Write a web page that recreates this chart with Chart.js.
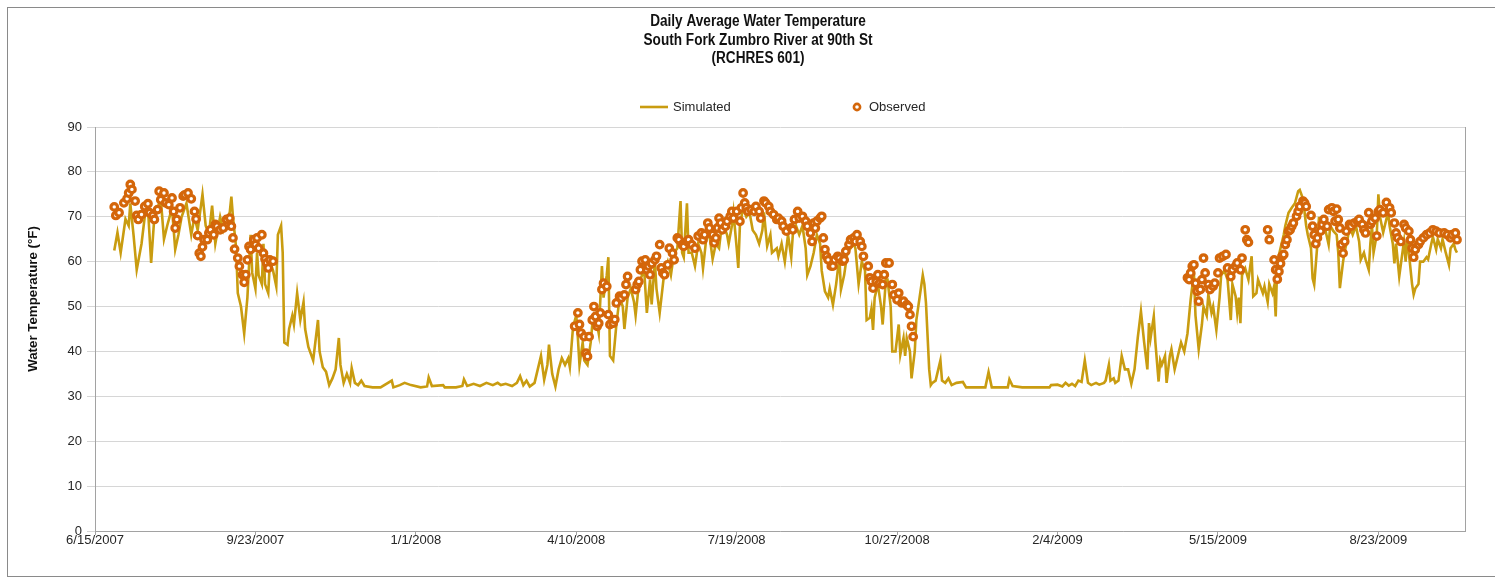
<!DOCTYPE html>
<html>
<head>
<meta charset="utf-8">
<title>Daily Average Water Temperature</title>
<script src="https://cdn.jsdelivr.net/npm/chart.js@4.4.1/dist/chart.umd.min.js"></script>
<style>
    html, body { margin: 0; padding: 0; background: #fff; overflow: hidden; }
    #wrap { position: relative; width: 1495px; height: 581px; }
    #frame { position: absolute; left: 7px; top: 7px; width: 1600px; height: 568px; border: 1px solid #8a8a8a; border-right: none; }
    #chart { position: absolute; left: 0; top: 0; }
</style>
</head>
<body>
<div id="wrap">
    <div id="frame"></div>
    <canvas id="chart" width="1495" height="581"></canvas>
</div>
<script>
/**
 * Daily average water temperature, South Fork Zumbro River (RCHRES 601)
 * x values are days counted from 6/15/2007
 */

// --- Data ---
const titleLines = [
    'Daily Average Water Temperature',
    'South Fork Zumbro River at 90th St',
    '(RCHRES 601)'
];
const yAxisTitle = 'Water Temperature (\u00B0F)';
const xTickLabels = ['6/15/2007', '9/23/2007', '1/1/2008', '4/10/2008', '7/19/2008',
    '10/27/2008', '2/4/2009', '5/15/2009', '8/23/2009'];
const xTickStep = 100;
const xMaxDay = 854;

// simulated daily mean, [day, degF]
const simulated = [
    [12,62.5],[14,66.5],[16,62],[19,69.5],[21,68],[22,73],[24,66],[26,58.2],[29,64],[31,70],
    [33,72],[35,59.7],[37,70],[39,72],[41,74],[43,65],[45,68],[48,72],[50,62.7],[52,66],
    [54,70],[57,73],[60,66],[62,70],[64,67],[67,75],[69,68],[71,66],[73,72.5],[75,64],
    [78,70],[80,67],[82,69],[84,71],[85,74.5],[86,70],[88,63],[89,53],[91,50],[93,44],
    [95,52],[97,66],[98,57.5],[100,54],[101,62],[102,57],[104,55],[105,64],[106,55],[108,53],
    [109,60],[111,58],[113,54.5],[114,66],[116,68],[117,62],[118,42],[120,41.5],[121,45],[123,48],
    [124,46],[126,53],[128,47],[130,51],[131,45],[133,41],[136,38],[139,47],[140,40],[142,36.5],
    [144,35.5],[146,32.5],[148,34],[150,36],[152,43],[153,37],[155,33],[157,35],[159,33],[160,36.3],
    [162,33],[164,32.5],[166,33.5],[168,32.3],[173,32],[178,32],[185,33.5],[186,32],[190,32.5],[193,33],
    [197,32.5],[203,32],[207,32.2],[208,34.2],[210,32.3],[217,32.5],[218,32],[225,32],[229,32.3],[230,33.8],
    [232,32.3],[236,32.8],[240,32.3],[244,33],[248,32.5],[251,33],[253,32.5],[256,32.8],[260,32.3],[263,33],
    [265,34.5],[267,32.5],[269,33.5],[271,32.2],[274,33],[278,39],[280,33.7],[282,37],[283,41.5],[285,35],
    [287,32.2],[289,36],[291,38.5],[293,37],[295,38.5],[296,36.5],[298,45.5],[300,48],[301,43],[302,37],
    [304,42],[305,38],[307,37],[309,42],[310,46],[312,48],[314,44],[316,59],[317,52],[319,57],
    [320,61],[321,39],[323,38],[325,46],[327,52],[329,50],[330,45],[332,52],[334,54],[336,51],
    [337,48],[339,55],[341,57],[342,60],[344,48.6],[346,56],[347,50.5],[349,60],[350,54],[352,48.6],
    [355,58],[357,60],[359,57],[361,62],[363,63],[365,73.5],[366,62],[367,61],[369,73],[370,62],
    [372,62],[374,59],[376,64],[378,62],[379,58.5],[381,65],[383,66],[385,60.6],[387,64],[389,63],
    [390,66],[392,68],[394,66],[395,64],[397,68],[398,71],[400,63],[401,58.6],[402,68],[404,72],
    [406,70],[408,71],[410,67],[412,66],[414,64],[416,67],[417,71],[419,63.5],[421,66],[422,62],
    [425,63],[426,61.2],[428,64],[430,60],[432,66],[434,61],[435,66],[437,68],[439,66],[441,68],
    [443,63],[444,57],[446,59],[448,62],[450,66],[452,64],[453,58],[455,53.4],[457,52],[458,54],
    [460,50.4],[462,55],[464,61],[465,53.8],[467,57],[469,62],[471,63],[473,64],[474,63],[476,55],
    [478,60],[480,58],[481,47],[483,47.5],[484,49.5],[485,44.8],[486,52],[488,55],[490,50],[491,46],
    [493,56],[494,56],[496,50],[497,40],[499,40],[501,46],[502,39.3],[504,43],[505,39],[506,43],
    [508,40],[509,34],[511,40],[512,47],[514,52],[516,57],[517,55],[518,50.8],[520,36],[521,32.5],
    [522,33],[524,33.5],[527,38],[528,33.5],[530,33],[532,34],[534,32.5],[537,33],[541,33.2],[543,32],
    [549,32],[555,32],[557,35.4],[559,32],[566,32],[569,32],[570,33.8],[572,32.3],[578,32],[595,32],
    [596,32.5],[600,32.6],[603,32.2],[605,33],[607,32.4],[609,32.8],[611,32.3],[613,33.5],[615,33.2],[617,38],
    [619,33],[621,32.5],[624,33],[626,32.6],[629,33],[630,33.5],[632,37],[633,33.5],[635,34],[636,33],
    [638,33.5],[640,39],[642,36],[644,36],[646,32.8],[648,36],[650,43],[652,48.9],[654,42],[656,36],
    [657,46.3],[658,43],[660,47.8],[661,42],[663,33.3],[664,38],[665,37],[667,39],[668,33],[670,39],
    [671,40.5],[673,36],[675,39],[677,42],[679,40],[681,44],[683,51.6],[685,57.5],[686,48],[688,40.5],
    [690,46],[691,50],[693,48],[694,52.7],[696,48.6],[697,50],[699,44.8],[701,52],[702,57],[704,58],
    [706,56],[708,47],[709,55],[711,52.3],[712,48.6],[713,52],[714,46.3],[715,57],[717,58.5],[719,56],
    [721,61.2],[722,52.3],[724,53],[725,56],[728,53],[729,54.5],[731,51],[732,55],[734,53],[735,54.5],
    [736,47.8],[737,60],[739,63],[741,66],[742,68],[744,70.9],[746,72],[748,73],[750,75.7],[751,76],
    [753,74],[755,68],[756,66],[758,63],[759,56.3],[760,54.9],[762,64],[763,70],[764,66],[766,68.5],
    [767,67],[769,63.8],[770,68],[772,66.8],[774,66],[775,62],[776,54.1],[778,60],[779,62.3],[781,65.5],
    [782,68],[784,66],[786,68],[788,64.5],[789,60.4],[791,62],[792,60.5],[794,58.2],[795,64],[796,68],
    [797,62],[799,66],[800,75],[801,70],[803,66.5],[804,68],[806,71],[807,68],[809,64],[810,59.6],
    [811,64],[813,56.7],[815,62],[816,64.5],[817,60],[818,65],[819,62],[821,55],[822,52.7],[823,54],
    [825,55],[826,60],[828,60],[830,61],[831,60.5],[833,64],[834,65.5],[836,62.7],[837,65],[839,63],
    [840,65],[842,62],[844,59.3],[845,63],[847,64],[848,62.7],[849,62]
];

// observed grab samples, [day, degF]
const observed = [
    [12,72.2],[13,70.3],[15,70.9],[18,73.1],[20,74],[21,75.3],[22,77.2],[23,76.1],[25,73.5],[26,70.3],
    [27,69.4],[29,70.5],[31,72.3],[33,72.9],[34,70.9],[36,70.3],[37,69.4],[39,71.6],[40,75.7],[41,73.8],
    [43,75.3],[44,73.1],[46,72.7],[48,74.2],[49,71.2],[50,67.5],[51,69.4],[53,72],[55,74.6],[56,74.9],
    [58,75.3],[60,74],[62,71.2],[63,69.5],[64,65.8],[65,61.9],[66,61.2],[67,63.3],[68,64.9],[70,64.9],
    [71,66.4],[72,67.1],[74,66],[75,68.3],[76,67.9],[78,67.1],[80,67.5],[82,69.4],[84,69.7],[85,67.9],
    [86,65.3],[87,62.8],[89,60.8],[90,59],[92,57.1],[93,55.4],[94,57.1],[95,60.4],[96,63.4],[97,62.7],
    [99,64.9],[100,63.8],[101,65.3],[102,63],[104,66],[105,61.9],[106,60.6],[107,59.7],[108,58.6],[109,60.4],
    [111,60.1],
    [299,45.6],[301,48.6],[302,46],[303,44.1],[305,43.3],[306,39.6],[307,38.9],[308,43.3],[310,47],[311,50],
    [312,47.8],[313,45.6],[314,46.3],[315,48.6],[316,53.8],[317,55.2],[319,54.5],[320,48.2],[321,46],[323,46.3],
    [324,47.1],[325,50.8],[327,52.3],[328,51.9],[330,52.6],[331,54.9],[332,56.7],[337,53.8],[338,54.9],[339,55.6],
    [340,58.2],[341,60.1],[343,60.4],[344,58.2],[345,59],[346,57.1],[347,59.6],[349,60.4],[350,61.2],[352,63.8],
    [353,58.6],[354,57.5],[355,57.1],[357,59.3],[358,63],[360,61.9],[361,60.4],[363,65.3],[364,64.9],[366,63.8],
    [367,63.4],[369,64.5],[370,64.9],[372,63.8],[374,63],[376,65.7],[378,66.4],[379,64.9],[380,66],[382,68.6],
    [383,67.5],[385,66],[386,64.2],[387,65.3],[388,67.5],[389,69.7],[390,68.6],[391,67.1],[393,67.9],[394,69],
    [396,70.1],[397,71.2],[398,69.7],[400,71.2],[402,69],[403,72],[404,75.3],[405,73.1],[406,72],[407,71.2],
    [409,71.6],[411,71.2],[412,72.3],[414,71.2],[415,69.7],[417,73.5],[418,73.1],[420,72.3],[421,71.2],[423,70.5],
    [425,69.4],[426,69.7],[428,69],[429,67.9],[431,66.8],[434,67.5],[435,67.1],[436,69.4],[438,71.2],[439,69.7],
    [441,70.1],[443,69],[444,67.9],[446,66.4],[447,64.5],[448,68.6],[449,67.5],[450,69],[452,69.7],[453,70.1],
    [454,65.3],[455,62.7],[456,61.2],[457,60.4],[459,59],[460,59],[461,60.4],[463,61.2],[464,60.8],[466,60.1],
    [467,60.4],[468,62.3],[470,63.8],[471,64.9],[473,65.3],[474,64.5],[475,66],[477,64.5],[478,63.4],[479,61.2],
    [482,59],[483,56.4],[484,55.6],[485,54.1],[487,55.6],[488,57.1],[489,55.2],[491,54.9],[492,57.1],[493,59.7],
    [495,59.7],[497,54.9],[498,52.6],[500,51.5],[501,53],[503,50.8],[504,51.2],[506,50.4],[507,50],[508,48.2],
    [509,45.6],[510,43.3],
    [681,56.4],[682,56],[683,57.5],[684,59],[685,59.3],[686,55.2],[687,53.4],[688,51.2],[689,53.8],[690,56],
    [691,60.8],[692,57.5],[694,54.9],[695,53.8],[697,54.5],[698,55.2],[700,57.5],[701,60.8],[703,61.2],[705,61.6],
    [706,58.6],[708,56.7],[709,58.2],[711,59],[712,59.7],[714,58.2],[715,60.8],[717,67.1],[718,64.9],[719,64.3],
    [731,67.1],[732,64.9],[735,60.4],[736,58.2],[737,56.1],[738,57.8],[739,59.6],[740,61.2],[741,61.6],[742,63.8],
    [743,64.9],[744,66.8],[745,67.1],[746,67.9],[747,68.6],[749,70.1],[750,71.2],[751,72.3],[753,73.5],[754,73.1],
    [755,72.3],[758,70.3],[759,67.9],[760,66],[761,64],[762,65.3],[764,66.8],[765,68.3],[766,69.4],[768,67.9],
    [769,71.6],[771,72],[772,71.2],[773,69],[774,71.7],[775,69.4],[776,67.5],[777,63.8],[778,61.9],[779,64.5],
    [780,66.8],[782,68.3],[783,67.9],[785,68.6],[787,69],[788,69.4],[790,68.3],[791,67.1],[792,66.4],[794,70.9],
    [795,68.3],[796,69],[798,69.7],[799,65.7],[800,71.2],[801,71.6],[803,70.9],[805,73.2],[807,72],[808,70.9],
    [810,68.6],[811,66.4],[812,65.3],[814,64.5],[816,68.3],[817,67.5],[819,66.8],[820,64.9],[821,63],[822,61],
    [823,62.7],[825,63.8],[826,64.5],[828,65.3],[830,66],[832,66.4],[834,67.1],[836,66.8],[838,66.4],[841,66.4],
    [843,66],[845,65.3],[846,66],[848,66.4],[849,64.9]
];

// --- Styles ---
const SIM_COLOR = '#C99C10';
const OBS_COLOR = '#D4660A';
const GRID_COLOR = '#d6d6d6';
const AXIS_COLOR = '#a2a2a2';
const TEXT_COLOR = '#262626';
const FONT = '"Liberation Sans", Arial, sans-serif';

Chart.defaults.font.family = FONT;
Chart.defaults.font.size = 13;
Chart.defaults.color = TEXT_COLOR;

// --- Title, axis title, legend, plot edge ---
const decorPlugin = {
    id: 'decor',
    afterDraw(chart) {
        const { ctx, chartArea } = chart;
        ctx.save();

        // right edge of the plot area
        const rx = Math.round(chartArea.right) + 0.5;
        ctx.strokeStyle = AXIS_COLOR;
        ctx.lineWidth = 1;
        ctx.beginPath();
        ctx.moveTo(rx, chartArea.top);
        ctx.lineTo(rx, chartArea.bottom);
        ctx.stroke();

        // chart title (condensed bold)
        ctx.fillStyle = '#111';
        ctx.textAlign = 'center';
        ctx.textBaseline = 'middle';
        ctx.font = 'bold 16px ' + FONT;
        titleLines.forEach((line, i) => {
            ctx.save();
            ctx.translate(758, 22 + i * 18.5);
            ctx.scale(0.85, 1);
            ctx.fillText(line, 0, 0);
            ctx.restore();
        });

        // y axis title
        ctx.save();
        ctx.translate(33, 299);
        ctx.rotate(-Math.PI / 2);
        ctx.font = 'bold 13.3px ' + FONT;
        ctx.fillText(yAxisTitle, 0, 0);
        ctx.restore();

        // legend
        const [simSet, obsSet] = chart.data.datasets;
        const ly = 107;
        ctx.textAlign = 'left';
        ctx.font = '13px ' + FONT;
        ctx.fillStyle = TEXT_COLOR;

        ctx.strokeStyle = SIM_COLOR;
        ctx.lineWidth = 2.6;
        ctx.beginPath();
        ctx.moveTo(640, ly);
        ctx.lineTo(668, ly);
        ctx.stroke();
        ctx.fillText(simSet.label, 673, ly);

        ctx.strokeStyle = OBS_COLOR;
        ctx.lineWidth = 2.6;
        ctx.beginPath();
        ctx.arc(857, ly, 3.1, 0, Math.PI * 2);
        ctx.stroke();
        ctx.fillText(obsSet.label, 869, ly);

        ctx.restore();
    }
};

// --- Chart ---
new Chart(document.getElementById('chart'), {
    type: 'scatter',
    data: {
        datasets: [
            {
                label: 'Simulated',
                data: simulated.map(([x, y]) => ({ x, y })),
                showLine: true,
                borderColor: SIM_COLOR,
                borderWidth: 2.6,
                pointRadius: 0,
                pointHoverRadius: 0,
                tension: 0,
                order: 1
            },
            {
                label: 'Observed',
                data: observed.map(([x, y]) => ({ x, y })),
                borderColor: OBS_COLOR,
                backgroundColor: '#ffffff',
                borderWidth: 3.2,
                pointRadius: 3.3,
                pointHoverRadius: 3.3,
                order: 0
            }
        ]
    },
    options: {
        responsive: false,
        devicePixelRatio: 1,
        animation: false,
        layout: { padding: { top: 127, right: 30, bottom: 0, left: 0 } },
        plugins: {
            legend: { display: false },
            title: { display: false },
            tooltip: { enabled: false }
        },
        scales: {
            x: {
                type: 'linear',
                min: 0,
                max: xMaxDay,
                afterFit: (scale) => { scale.height = 50; },
                ticks: {
                    stepSize: xTickStep,
                    includeBounds: false,
                    autoSkip: false,
                    maxRotation: 0,
                    padding: -2,
                    callback: (v) => xTickLabels[Math.round(v / xTickStep)] ?? ''
                },
                grid: { drawOnChartArea: false, tickLength: 4, color: AXIS_COLOR },
                border: { color: AXIS_COLOR }
            },
            y: {
                min: 0,
                max: 90,
                afterFit: (scale) => { scale.width = 95; },
                ticks: { stepSize: 10, padding: 5 },
                grid: { color: GRID_COLOR, tickLength: 8 },
                border: { color: AXIS_COLOR }
            }
        }
    },
    plugins: [decorPlugin]
});
</script>
</body>
</html>
